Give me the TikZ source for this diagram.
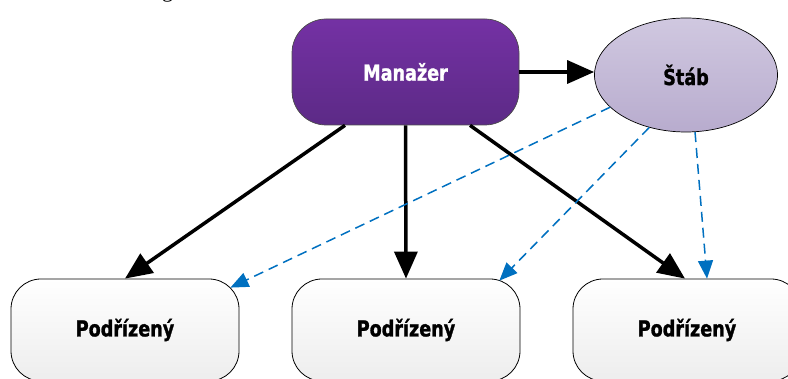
\documentclass[tikz,border=0pt]{standalone}
\usepackage{fontspec}
\setmainfont{Liberation Serif}
\newfontfamily\boxfont{DejaVu Sans}[FakeStretch=0.8, FakeBold=1.2]
\usetikzlibrary{arrows.meta,calc,shapes.geometric}

\definecolor{mgrTop}{HTML}{7431A4}
\definecolor{mgrBot}{HTML}{5C2A86}
\definecolor{stabTop}{HTML}{D0C8E0}
\definecolor{stabBot}{HTML}{B8ACCE}
\definecolor{subTop}{HTML}{FFFFFF}
\definecolor{subBot}{HTML}{EDEDED}
\definecolor{staffBlue}{HTML}{0070C0}

\begin{document}
\begin{tikzpicture}[x=1pt,y=-1pt,
  lbl/.style={font=\boxfont\bfseries\fontsize{22}{24}\selectfont, inner sep=0pt},
  mgrbox/.style={lbl, rectangle, rounded corners=34pt, draw=black!70, line width=0.7pt,
    top color=mgrTop, bottom color=mgrBot, text=white,
    minimum width=227pt, minimum height=106pt},
  stabell/.style={lbl, ellipse, draw=black, line width=0.7pt,
    top color=stabTop, bottom color=stabBot, text=black,
    minimum width=183pt, minimum height=114pt},
  subbox/.style={lbl, rectangle, rounded corners=30pt, draw=black, line width=0.8pt,
    top color=subTop, bottom color=subBot, text=black,
    minimum width=228pt, minimum height=102pt},
  boss/.style={draw=black, line width=3.5pt, -{Triangle[length=27pt, width=23pt]}},
  staff/.style={draw=staffBlue, line width=1.5pt, dash pattern=on 10pt off 6pt,
    -{Triangle[length=18pt, width=15pt]}}
]
\useasboundingbox (0,0) rectangle (788,379);
\clip (0,0) rectangle (788,379);

% caption line of the page above, cut by the top edge
\node[anchor=base west, inner sep=0pt, font=\fontsize{22}{24}\selectfont]
  (cap) at (12,-2.5) {Liniově štábní organizační struktura};

% boxes
\node[mgrbox]  (m)  at (405.5,72) {Manažer};
\node[stabell] (s)  at (686,75)   {Štáb};
\node[subbox]  (b1) at (125,330)  {Podřízený};
\node[subbox]  (b2) at (406,330)  {Podřízený};
\node[subbox]  (b3) at (687,330)  {Podřízený};

% line authority
\draw[boss] (m.east) -- (m.east -| s.west);
\draw[boss] ($(m.south)+(-60.5,0)$) -- (b1.north);
\draw[boss] (m.south) -- (b2.north);
\draw[boss] ($(m.south)+(64.5,0)$) -- ($(b3.north)+(-2,0)$);

% staff advice
\draw[staff] (s.203) -- ($(b1.north east)+(-9,9)$);
\draw[staff] (s.235) -- ($(b2.north east)+(-21,2)$);
\draw[staff] (s.279) -- ($(b3.north)+(20,0)$);
\end{tikzpicture}
\end{document}
